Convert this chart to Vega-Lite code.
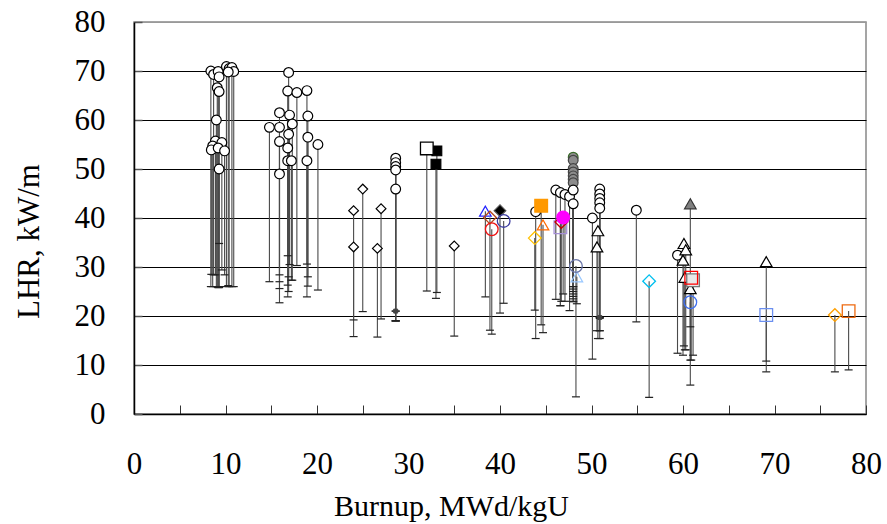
{
  "$schema": "https://vega.github.io/schema/vega-lite/v6.json",
  "width": 732,
  "height": 392,
  "autosize": {"type": "none"},
  "padding": {"left": 134, "top": 22, "right": 21, "bottom": 110},
  "background": "white",
  "config": {"view": {"stroke": "#888", "strokeWidth": 1.5}},
  "data": {"values": [
    {"b": 8.4, "lhr": 70.0, "low": 26, "s": "wc"},
    {"b": 8.7, "lhr": 69.3, "low": 28.4, "s": "wc"},
    {"b": 9.2, "lhr": 69.9, "low": 26, "s": "wc"},
    {"b": 9.3, "lhr": 68.8, "low": 25.8, "s": "wc"},
    {"b": 9.1, "lhr": 66.6, "low": 26, "s": "wc"},
    {"b": 9.3, "lhr": 65.8, "low": 26, "s": "wc"},
    {"b": 9.0, "lhr": 60.0, "low": 26, "s": "wc"},
    {"b": 10.1, "lhr": 70.9, "low": 26, "s": "wc"},
    {"b": 10.4, "lhr": 70.5, "low": 26, "s": "wc"},
    {"b": 10.7, "lhr": 70.7, "low": 26, "s": "wc"},
    {"b": 10.9, "lhr": 69.9, "low": 26, "s": "wc"},
    {"b": 10.3, "lhr": 69.8, "low": 26.2, "s": "wc"},
    {"b": 8.9, "lhr": 55.7, "low": 28.4, "s": "wc"},
    {"b": 8.6, "lhr": 54.7, "low": 26, "s": "wc"},
    {"b": 8.45, "lhr": 53.9, "low": 28.5, "s": "wc"},
    {"b": 9.6, "lhr": 55.4, "low": 29.4, "s": "wc"},
    {"b": 9.2, "lhr": 54.3, "low": 25.8, "s": "wc"},
    {"b": 9.9, "lhr": 53.7, "low": 28.4, "s": "wc"},
    {"b": 9.3, "lhr": 50.0, "low": 34.8, "s": "wc"},
    {"b": 14.8, "lhr": 58.5, "low": 27.0, "s": "wc"},
    {"b": 15.9, "lhr": 61.5, "low": 28.4, "s": "wc"},
    {"b": 15.9, "lhr": 58.5, "low": 27.0, "s": "wc"},
    {"b": 15.9, "lhr": 55.6, "low": 25.6, "s": "wc"},
    {"b": 15.9, "lhr": 49.0, "low": 22.7, "s": "wc"},
    {"b": 16.9, "lhr": 69.7, "low": 25.0, "s": "wc"},
    {"b": 16.8, "lhr": 65.9, "low": 32.3, "s": "wc"},
    {"b": 17.0, "lhr": 61.0, "low": 30.5, "s": "wc"},
    {"b": 16.9, "lhr": 57.1, "low": 28.0, "s": "wc"},
    {"b": 16.8, "lhr": 54.3, "low": 26.3, "s": "wc"},
    {"b": 16.8, "lhr": 51.7, "low": 23.9, "s": "wc"},
    {"b": 17.2, "lhr": 51.7, "low": 27.3, "s": "wc"},
    {"b": 17.3, "lhr": 59.2, "low": 27.3, "s": "wc"},
    {"b": 17.8, "lhr": 65.6, "low": 30.3, "s": "wc"},
    {"b": 18.9, "lhr": 66.0, "low": 30.6, "s": "wc"},
    {"b": 19.0, "lhr": 60.8, "low": 28.0, "s": "wc"},
    {"b": 19.0, "lhr": 56.5, "low": 26.1, "s": "wc"},
    {"b": 18.9, "lhr": 51.7, "low": 23.9, "s": "wc"},
    {"b": 20.1, "lhr": 55.0, "low": 25.3, "s": "wc"},
    {"b": 24.0, "lhr": 41.5, "low": 19.2, "s": "wd"},
    {"b": 24.0, "lhr": 34.1, "low": 15.8, "s": "wd"},
    {"b": 25.0, "lhr": 45.9, "low": 20.9, "s": "wd"},
    {"b": 26.6, "lhr": 33.8, "low": 15.7, "s": "wd"},
    {"b": 27.0, "lhr": 41.9, "low": 19.4, "s": "wd"},
    {"b": 28.6, "lhr": 52.2, "low": 19.0, "s": "wc"},
    {"b": 28.6, "lhr": 51.3, "low": 21.0, "s": "wc"},
    {"b": 28.6, "lhr": 50.5, "low": 19.0, "s": "wc"},
    {"b": 28.6, "lhr": 49.8, "low": 19.0, "s": "wc"},
    {"b": 28.6, "lhr": 45.9, "low": 19.0, "s": "wc"},
    {"b": 28.6, "lhr": 21.0, "low": 21.0, "s": "ks"},
    {"b": 32.0, "lhr": 54.2, "low": 25.1, "s": "wsq"},
    {"b": 33.1, "lhr": 53.7, "low": 24.8, "s": "ksq"},
    {"b": 33.0, "lhr": 51.0, "low": 23.6, "s": "ksq"},
    {"b": 35.0, "lhr": 34.3, "low": 15.9, "s": "wd"},
    {"b": 38.4, "lhr": 41.4, "low": 23.9, "s": "bt"},
    {"b": 38.9, "lhr": 40.1, "low": 17.1, "s": "brd"},
    {"b": 39.1, "lhr": 37.7, "low": 16.3, "s": "rc"},
    {"b": 40.0, "lhr": 41.5, "low": 20.6, "s": "kd"},
    {"b": 40.4, "lhr": 39.4, "low": 22.6, "s": "ic"},
    {"b": 43.9, "lhr": 41.3, "low": 15.4, "s": "wc"},
    {"b": 43.8, "lhr": 35.9, "low": 21.2, "s": "yd"},
    {"b": 44.5, "lhr": 42.5, "low": 18.2, "s": "osq"},
    {"b": 44.7, "lhr": 38.6, "low": 16.6, "s": "ot"},
    {"b": 46.1, "lhr": 45.7, "low": 23.4, "s": "wc"},
    {"b": 46.6, "lhr": 45.2, "low": 22.1, "s": "wc"},
    {"b": 47.1, "lhr": 44.8, "low": 23.0, "s": "wc"},
    {"b": 47.6, "lhr": 44.4, "low": 21.1, "s": "wc"},
    {"b": 46.6, "lhr": 38.1, "low": 22.1, "s": "lsq"},
    {"b": 46.7, "lhr": 39.2, "low": 23.0, "s": "drd"},
    {"b": 46.9, "lhr": 40.1, "low": 24.5, "s": "mc"},
    {"b": 48.0, "lhr": 52.4, "low": 25.5, "s": "gcg"},
    {"b": 48.0, "lhr": 51.8, "low": 26.0, "s": "gc"},
    {"b": 48.0, "lhr": 50.1, "low": 25.0, "s": "gc"},
    {"b": 48.0, "lhr": 49.4, "low": 24.5, "s": "gc"},
    {"b": 48.0, "lhr": 48.6, "low": 24.0, "s": "gc"},
    {"b": 48.0, "lhr": 47.9, "low": 23.5, "s": "gc"},
    {"b": 48.0, "lhr": 47.2, "low": 26.0, "s": "gc"},
    {"b": 48.0, "lhr": 45.7, "low": 23.0, "s": "wc"},
    {"b": 48.0, "lhr": 42.9, "low": 22.9, "s": "wc"},
    {"b": 48.3, "lhr": 30.2, "low": 3.5, "s": "sc"},
    {"b": 48.4, "lhr": 28.0, "low": 22.5, "s": "lbt"},
    {"b": 50.1, "lhr": 40.0, "low": 11.2, "s": "wc"},
    {"b": 50.9, "lhr": 45.9, "low": 17.0, "s": "wc"},
    {"b": 50.9, "lhr": 44.9, "low": 19.7, "s": "wc"},
    {"b": 50.9, "lhr": 44.0, "low": 17.0, "s": "wc"},
    {"b": 50.9, "lhr": 43.1, "low": 19.5, "s": "wc"},
    {"b": 50.9, "lhr": 42.0, "low": 15.4, "s": "wc"},
    {"b": 50.7, "lhr": 37.4, "low": 15.4, "s": "wt"},
    {"b": 50.6, "lhr": 34.1, "low": 17.0, "s": "wt"},
    {"b": 50.9, "lhr": 19.7, "low": 19.7, "s": "ks"},
    {"b": 54.9, "lhr": 41.6, "low": 18.8, "s": "wc"},
    {"b": 56.3, "lhr": 27.1, "low": 3.4, "s": "cd"},
    {"b": 59.4, "lhr": 32.4, "low": 12.4, "s": "wc"},
    {"b": 60.1, "lhr": 34.8, "low": 13.9, "s": "wt"},
    {"b": 60.3, "lhr": 33.5, "low": 13.1, "s": "wt"},
    {"b": 60.0, "lhr": 31.4, "low": 12.0, "s": "wt"},
    {"b": 60.2, "lhr": 27.9, "low": 13.1, "s": "wt"},
    {"b": 60.8, "lhr": 25.6, "low": 17.8, "s": "wt"},
    {"b": 60.8, "lhr": 42.9, "low": 5.9, "s": "gt"},
    {"b": 61.1, "lhr": 27.3, "low": 12.0, "s": "gsq"},
    {"b": 60.9, "lhr": 27.8, "low": 11.0, "s": "rsq"},
    {"b": 60.8, "lhr": 22.8, "low": 11.0, "s": "bc"},
    {"b": 69.1, "lhr": 31.1, "low": 8.6, "s": "wt"},
    {"b": 69.1, "lhr": 20.2, "low": 10.8, "s": "csq"},
    {"b": 76.6, "lhr": 20.2, "low": 8.6, "s": "od"},
    {"b": 78.1, "lhr": 21.0, "low": 9.0, "s": "orsq"}
  ]},
  "encoding": {
    "x": {
      "field": "b", "type": "quantitative",
      "scale": {"domain": [0, 80], "nice": false, "zero": false},
      "axis": {
        "values": [0, 5, 10, 15, 20, 25, 30, 35, 40, 45, 50, 55, 60, 65, 70, 75, 80],
        "labelExpr": "datum.value % 10 === 0 ? datum.label : ''",
        "labelOverlap": false, "labelFlush": false,
        "tickSize": -9, "tickColor": "#333", "tickWidth": 1,
        "domainColor": "black", "domainWidth": 1.5,
        "grid": false,
        "labelFont": "Liberation Serif", "labelFontSize": 31, "labelColor": "black",
        "labelPadding": 44,
        "title": "Burnup, MWd/kgU",
        "titleFont": "Liberation Serif", "titleFontSize": 30, "titleFontWeight": "normal", "titleColor": "black",
        "titleX": 317, "titleY": 92, "titleBaseline": "middle", "titleAlign": "center"
      }
    },
    "shape": {"field": "s", "type": "nominal", "legend": null,
      "scale": {
        "domain": ["wc","wd","wt","wsq","ksq","kd","gc","gcg","gt","gsq","bt","brd","rc","ic","yd","osq","ot","mc","lsq","drd","sc","lbt","cd","rsq","bc","csq","od","orsq","ks"],
        "range": ["circle","diamond","triangle-up","square","square","diamond","circle","circle","triangle-up","square","triangle-up","diamond","circle","circle","diamond","square","triangle-up","circle","square","diamond","circle","triangle-up","diamond","square","circle","square","diamond","square","square"]
      }},
    "fill": {"field": "s", "type": "nominal", "legend": null,
      "scale": {
        "domain": ["wc","wd","wt","wsq","ksq","kd","gc","gcg","gt","gsq","bt","brd","rc","ic","yd","osq","ot","mc","lsq","drd","sc","lbt","cd","rsq","bc","csq","od","orsq","ks"],
        "range": ["white","white","white","white","black","black","#8c8c8c","#8c8c8c","#808080","#e8e8e8","transparent","transparent","transparent","transparent","transparent","#ff9900","transparent","#ff00ff","transparent","transparent","transparent","transparent","transparent","transparent","transparent","transparent","transparent","transparent","#444444"]
      }},
    "stroke": {"field": "s", "type": "nominal", "legend": null,
      "scale": {
        "domain": ["wc","wd","wt","wsq","ksq","kd","gc","gcg","gt","gsq","bt","brd","rc","ic","yd","osq","ot","mc","lsq","drd","sc","lbt","cd","rsq","bc","csq","od","orsq","ks"],
        "range": ["black","black","black","black","black","#555555","#444444","#3a6b2a","#333333","#777777","#2323ff","#b5461b","#ee1111","#3c3ca0","#ffc000","#ff9900","#ff6a00","#ff00ff","#a58fd6","#c00000","#6a75a8","#99c8ff","#00bfee","#ff0000","#3f6fef","#6b8ff0","#ffa000","#ee6a10","#444444"]
      }}
  },
  "layer": [
    {
      "mark": {"type": "rule", "color": "#4a4a4a", "strokeWidth": 1.1},
      "encoding": {
        "shape": null, "fill": null, "stroke": null,
        "y": {
          "field": "lhr", "type": "quantitative",
          "scale": {"domain": [0, 80], "nice": false, "zero": false},
          "axis": {
            "values": [0, 5, 10, 15, 20, 25, 30, 35, 40, 45, 50, 55, 60, 65, 70, 75, 80],
            "labelExpr": "datum.value % 10 === 0 ? datum.label : ''",
            "labelOverlap": false, "labelFlush": false,
            "tickSize": -8, "tickColor": "#555", "tickWidth": 1.5,
            "domainColor": "black", "domainWidth": 1.5,
            "grid": true,
            "gridColor": {"condition": {"test": "datum.value === 80", "value": "#999"}, "value": "black"},
            "gridOpacity": {"condition": {"test": "datum.value % 10 === 0", "value": 1}, "value": 0},
            "gridWidth": 1,
            "labelFont": "Liberation Serif", "labelFontSize": 31, "labelColor": "black",
            "labelPadding": 37,
            "title": "LHR, kW/m",
            "titleFont": "Liberation Serif", "titleFontSize": 31, "titleFontWeight": "normal", "titleColor": "black",
            "titleAngle": -90, "titleX": -105, "titleY": 219, "titleBaseline": "middle", "titleAlign": "center"
          }
        },
        "y2": {"field": "low"}
      }
    },
    {
      "mark": {"type": "tick", "orient": "horizontal", "size": 8, "thickness": 1.2, "color": "#222", "opacity": 1},
      "encoding": {
        "shape": null, "fill": null, "stroke": null,
        "y": {"field": "low", "type": "quantitative", "scale": {"domain": [0, 80], "nice": false, "zero": false}}
      }
    },
    {
      "transform": [{"filter": "indexof(['wc','wd','ksq','gc','gcg'], datum.s) >= 0"}],
      "mark": {"type": "point", "opacity": 1, "strokeWidth": 1.2, "size": 95},
      "encoding": {
        "y": {"field": "lhr", "type": "quantitative", "scale": {"domain": [0, 80], "nice": false, "zero": false}}
      }
    },
    {
      "transform": [{"filter": "indexof(['wt','gt','bt','ot','lbt','kd'], datum.s) >= 0"}],
      "mark": {"type": "point", "opacity": 1, "strokeWidth": 1.2, "size": 135},
      "encoding": {
        "y": {"field": "lhr", "type": "quantitative", "scale": {"domain": [0, 80], "nice": false, "zero": false}}
      }
    },
    {
      "transform": [{"filter": "indexof(['wsq','gsq','brd','rc','ic','yd','osq','mc','lsq','drd','sc','cd','rsq','bc','csq','od','orsq'], datum.s) >= 0"}],
      "mark": {"type": "point", "opacity": 1, "strokeWidth": 1.3, "size": 160},
      "encoding": {
        "y": {"field": "lhr", "type": "quantitative", "scale": {"domain": [0, 80], "nice": false, "zero": false}}
      }
    },
    {
      "transform": [{"filter": "datum.s === 'ks'"}],
      "mark": {"type": "point", "opacity": 1, "strokeWidth": 1, "size": 16},
      "encoding": {
        "y": {"field": "lhr", "type": "quantitative", "scale": {"domain": [0, 80], "nice": false, "zero": false}}
      }
    }
  ]
}
